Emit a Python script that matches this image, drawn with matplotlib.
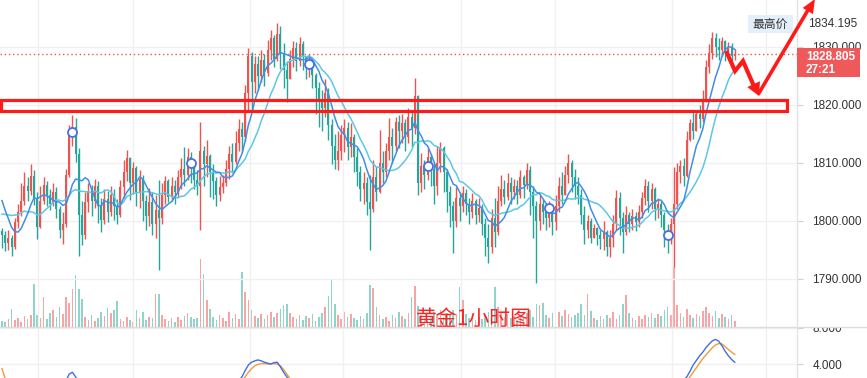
"""
Gold 1h candlestick chart with MA lines, volume and an oscillator pane
"""

import numpy as np
import pandas as pd
import matplotlib
matplotlib.use("Agg")
import matplotlib.pyplot as plt
from matplotlib.patches import Rectangle, Polygon
from matplotlib.lines import Line2D

# closes before the first visible bar, only used to warm up the moving averages
prior_closes = [1797.0, 1798.5, 1796.5, 1799.0, 1800.5, 1799.0, 1801.5,
                1808.0, 1807.0, 1806.0, 1805.0, 1802.0, 1799.0]
first_open = 1798.2

closes = [
    1797.5, 1796.2, 1797.0, 1795.5, 1799.8, 1801.5, 1803.5, 1806.0, 1805.2, 1807.8,
    1804.0, 1799.0, 1803.5, 1806.2, 1804.5, 1803.0, 1805.0, 1802.0, 1798.5, 1799.5,
    1808.0, 1814.8, 1816.2, 1811.5, 1801.0, 1797.5, 1803.2, 1805.2, 1803.4, 1806.0,
    1802.5, 1800.2, 1803.8, 1801.5, 1804.5, 1802.6, 1801.0, 1805.8, 1808.5, 1810.8,
    1806.5, 1809.2, 1805.0, 1807.2, 1803.5, 1800.8, 1803.2, 1799.5, 1801.8, 1800.5,
    1804.5, 1806.8, 1804.2, 1806.0, 1805.0, 1807.5, 1809.0, 1808.0, 1811.0, 1809.5,
    1807.0, 1806.0, 1812.0, 1809.8, 1811.2, 1808.5, 1806.8, 1804.5, 1805.8, 1806.5,
    1809.0, 1811.5, 1810.2, 1813.5, 1815.8, 1814.5, 1822.0, 1828.5, 1824.0, 1827.0,
    1825.0, 1827.8, 1825.5, 1829.5, 1831.5, 1828.0, 1832.2, 1829.0, 1826.0, 1824.5,
    1828.0, 1829.8, 1827.5, 1830.5, 1828.2, 1826.5, 1827.0, 1825.2, 1823.0, 1820.5,
    1819.5, 1822.0, 1816.5, 1813.0, 1810.5, 1812.0, 1814.8, 1816.0, 1812.8, 1814.5,
    1811.0, 1808.5, 1805.5, 1806.5, 1803.2, 1802.0, 1807.5, 1805.0, 1810.0, 1808.5,
    1812.0, 1814.5, 1813.0, 1817.0, 1815.5, 1816.8, 1814.5, 1818.0, 1816.0, 1821.5,
    1806.5, 1809.5, 1808.0, 1811.0, 1809.0, 1806.0, 1810.0, 1812.5, 1808.5, 1805.0,
    1802.5, 1800.0, 1804.0, 1802.5, 1804.8, 1803.0, 1801.5, 1803.5, 1801.0, 1802.2,
    1799.5, 1797.0, 1795.5, 1800.5, 1798.0, 1803.5, 1805.5, 1804.2, 1806.5, 1805.0,
    1806.0, 1804.5, 1807.5, 1806.2, 1808.8, 1805.0, 1802.5, 1800.0, 1803.0, 1801.5,
    1800.5, 1801.8, 1799.8, 1802.5, 1806.0, 1804.5, 1808.0, 1810.0, 1807.5, 1806.0,
    1804.5, 1801.0, 1798.5, 1800.0, 1797.0, 1798.8, 1797.5, 1796.8, 1798.0, 1795.5,
    1797.0, 1799.5, 1804.0, 1800.5, 1798.0, 1801.0, 1799.5, 1800.8, 1799.8, 1801.5,
    1804.0, 1806.0, 1803.5, 1805.5, 1802.0, 1803.0, 1801.0, 1798.5, 1797.0, 1799.5,
    1803.0, 1808.5, 1809.5, 1807.8, 1814.0, 1816.8, 1815.5, 1818.5, 1817.5, 1821.0,
    1826.5, 1829.0, 1831.5, 1830.0, 1829.5, 1831.0, 1829.2, 1830.0, 1828.5, 1828.805,
]
highs = [
    1798.8, 1798.2, 1798.5, 1797.6, 1800.5, 1803.0, 1806.5, 1808.5, 1807.5, 1809.8,
    1808.8, 1805.0, 1806.0, 1807.5, 1806.8, 1805.5, 1806.5, 1805.8, 1802.5, 1801.5,
    1809.0, 1816.5, 1818.3, 1817.8, 1812.5, 1803.5, 1805.0, 1806.5, 1806.2, 1807.2,
    1806.8, 1804.0, 1805.5, 1805.2, 1806.0, 1805.5, 1803.8, 1807.0, 1810.5, 1812.2,
    1811.0, 1810.2, 1809.5, 1808.8, 1808.0, 1804.5, 1805.6, 1805.0, 1804.4, 1807.0,
    1806.5, 1807.8, 1807.2, 1807.5, 1807.0, 1808.8, 1810.8, 1812.8, 1812.5, 1811.8,
    1810.0, 1808.8, 1817.0, 1813.0, 1814.0, 1811.5, 1809.8, 1807.5, 1807.8, 1808.0,
    1810.5, 1813.0, 1813.5, 1815.5, 1817.5, 1817.0, 1823.5, 1829.8, 1829.2, 1828.5,
    1828.5, 1829.5, 1828.8, 1831.2, 1833.0, 1832.0, 1834.2, 1833.6, 1830.7, 1827.5,
    1829.5, 1831.0, 1830.8, 1831.7, 1831.0, 1828.5, 1828.8, 1827.5, 1825.5, 1824.0,
    1822.5, 1824.5, 1823.0, 1817.5, 1815.0, 1815.5, 1816.5, 1817.5, 1817.0, 1816.8,
    1815.0, 1812.5, 1809.5, 1808.5, 1807.5, 1808.0, 1810.5, 1809.5, 1815.7, 1812.0,
    1813.5, 1817.8, 1816.0, 1818.0, 1818.2, 1818.5, 1817.5, 1819.5, 1819.0, 1824.6,
    1821.8, 1811.7, 1810.5, 1812.5, 1811.5, 1810.0, 1813.0, 1813.6, 1813.0, 1809.0,
    1806.0, 1803.5, 1805.9, 1805.0, 1806.0, 1805.5, 1804.0, 1804.8, 1803.8, 1804.0,
    1803.0, 1800.5, 1799.5, 1802.0, 1804.0, 1806.0, 1808.0, 1807.0, 1808.3, 1807.5,
    1807.2, 1807.0, 1808.8, 1808.0, 1810.0, 1809.5, 1806.0, 1803.5, 1804.5, 1803.8,
    1803.0, 1803.5, 1802.8, 1804.5, 1807.5, 1808.5, 1809.5, 1811.5, 1810.5, 1809.0,
    1807.5, 1805.5, 1802.5, 1801.0, 1800.5, 1799.5, 1799.0, 1798.5, 1800.0, 1798.5,
    1798.5, 1801.0, 1805.3, 1805.0, 1801.5, 1802.5, 1801.5, 1802.0, 1801.5, 1802.8,
    1805.0, 1807.2, 1806.8, 1806.5, 1805.8, 1804.0, 1803.5, 1801.5, 1799.5, 1800.5,
    1809.3, 1810.0, 1810.5, 1810.8, 1815.5, 1817.5, 1818.8, 1819.2, 1820.0, 1822.5,
    1827.8, 1830.5, 1832.6, 1832.4, 1831.5, 1831.8, 1831.2, 1830.8, 1830.6, 1829.6,
]
lows = [
    1795.4, 1794.8, 1795.0, 1794.0, 1795.2, 1798.8, 1800.9, 1802.8, 1803.5, 1804.5,
    1802.8, 1796.8, 1798.8, 1803.0, 1802.5, 1801.8, 1802.5, 1800.5, 1797.0, 1796.0,
    1799.0, 1807.5, 1813.0, 1810.2, 1794.0, 1795.8, 1796.8, 1801.5, 1800.8, 1802.3,
    1799.6, 1798.0, 1799.5, 1799.8, 1800.8, 1800.2, 1799.4, 1800.6, 1804.0, 1806.8,
    1803.6, 1804.6, 1802.5, 1802.2, 1800.0, 1798.5, 1799.2, 1797.6, 1797.0, 1791.5,
    1799.5, 1803.0, 1803.2, 1803.5, 1803.0, 1804.2, 1805.5, 1806.0, 1807.0, 1806.5,
    1805.5, 1804.5, 1798.5, 1806.0, 1807.5, 1804.2, 1803.8, 1802.5, 1803.5, 1804.8,
    1806.0, 1807.2, 1808.2, 1809.8, 1812.0, 1811.8, 1813.8, 1819.2, 1818.8, 1822.0,
    1822.5, 1824.0, 1823.2, 1825.0, 1827.8, 1826.5, 1827.5, 1826.2, 1823.0, 1820.5,
    1825.0, 1826.5, 1825.8, 1826.8, 1826.0, 1824.5, 1824.8, 1823.0, 1818.5, 1816.2,
    1815.5, 1818.0, 1814.0, 1809.8, 1809.0, 1808.8, 1810.5, 1811.8, 1810.5, 1811.0,
    1808.5, 1806.0, 1803.5, 1803.0, 1801.0, 1795.0, 1801.5, 1803.5, 1804.8, 1806.5,
    1807.5, 1810.5, 1810.0, 1812.0, 1812.5, 1813.5, 1812.0, 1813.5, 1812.8, 1815.0,
    1804.5, 1805.0, 1805.5, 1807.0, 1806.0, 1803.0, 1804.5, 1808.5, 1805.0, 1801.5,
    1799.0, 1794.5, 1799.0, 1800.0, 1801.5, 1801.0, 1799.5, 1800.5, 1799.5, 1799.8,
    1797.5, 1794.0, 1792.8, 1794.5, 1795.5, 1797.5, 1802.5, 1803.0, 1803.6, 1803.0,
    1803.8, 1803.0, 1804.0, 1804.0, 1805.5, 1801.0, 1797.0, 1789.3, 1798.5, 1799.5,
    1798.5, 1799.0, 1797.5, 1798.5, 1801.5, 1803.0, 1804.5, 1806.5, 1805.0, 1803.8,
    1803.0, 1799.5, 1796.0, 1797.0, 1796.2, 1797.0, 1795.8, 1795.2, 1795.0, 1794.0,
    1793.8, 1795.5, 1798.5, 1797.5, 1794.5, 1797.5, 1798.0, 1798.5, 1798.2, 1799.0,
    1800.5, 1802.8, 1801.5, 1802.0, 1800.2, 1800.5, 1799.0, 1795.5, 1794.5, 1796.0,
    1792.0, 1802.0, 1806.5, 1806.0, 1807.5, 1813.8, 1814.2, 1815.5, 1816.0, 1817.0,
    1820.5, 1825.5, 1828.0, 1828.3, 1827.8, 1828.5, 1827.5, 1827.8, 1827.2, 1827.8,
]
volumes = [
    6, 5, 8, 18, 7, 9, 5, 11, 8, 12,
    43, 12, 9, 30, 8, 14, 17, 10, 20, 13,
    30, 24, 38, 52, 38, 28, 10, 7, 12, 6,
    9, 15, 11, 19, 14, 17, 26, 8, 6, 10,
    7, 5, 17, 9, 15, 7, 10, 9, 33, 33,
    12, 8, 6, 9, 5, 10, 7, 11, 14, 10,
    8, 9, 68, 53, 27, 18, 10, 7, 12, 9,
    6, 15, 9, 13, 8, 55, 35, 27, 17, 11,
    9, 13, 8, 12, 15, 10, 14, 18, 22, 23,
    14, 10, 8, 12, 7, 11, 9, 13, 6, 10,
    14, 20, 31, 48, 23, 12, 8, 15, 10, 13,
    9, 7, 11, 8, 14, 42, 39, 20, 12, 8,
    10, 6, 12, 9, 15, 11, 8, 14, 30, 41,
    21, 12, 9, 7, 11, 15, 13, 17, 10, 14,
    12, 17, 13, 40, 27, 13, 9, 11, 7, 10,
    8, 12, 15, 18, 40, 20, 14, 10, 13, 9,
    11, 7, 12, 9, 14, 17, 10, 23, 22, 24,
    12, 9, 14, 8, 15, 11, 17, 13, 10, 12,
    14, 23, 12, 33, 16, 9, 7, 11, 8, 12,
    9, 15, 8, 12, 23, 32, 14, 9, 7, 11,
    8, 12, 10, 14, 9, 13, 11, 17, 20, 12,
    60, 22, 14, 10, 18, 12, 9, 13, 11, 16,
    20, 14, 11, 16, 9, 13, 10, 8, 12, 6,
]

# circle signals on the chart (bar index, price)
signal_idx = [22, 59, 96, 133, 171, 208]
signal_price = [1815.3, 1810.0, 1827.1, 1809.5, 1802.2, 1797.6]

# oscillator pane, only the parts that rise into view (start bar -> values)
osc_fast = {
    20: [2.2, 2.9, 3.1, 2.6, 2.0],
    74: [2.2, 2.6, 3.3, 3.9, 4.2, 4.35, 4.45, 4.35, 4.2, 4.1, 4.0, 4.15, 4.2,
         3.7, 3.1, 2.6, 2.1],
    213: [2.2, 2.6, 3.2, 3.9, 4.4, 4.9, 5.3, 5.8, 6.2, 6.55, 6.7, 6.5, 6.0,
          5.4, 4.9, 4.5, 4.2],
}
osc_slow = {
    0: [3.5, 2.4, 1.8],
    75: [2.2, 2.6, 3.1, 3.5, 3.8, 3.95, 4.05, 4.05, 4.0, 4.0, 4.05, 4.0, 3.8,
         3.4, 2.9, 2.4, 2.0],
    214: [2.2, 2.6, 3.1, 3.6, 4.1, 4.6, 5.0, 5.4, 5.8, 6.1, 6.25, 6.2, 5.9,
          5.6, 5.3, 5.05],
}

day_breaks = [11.25, 41, 77.5, 106.5, 143.5, 172.75, 209.5, 238.75]
last_price = 1828.805
high_price = 1834.195
zone = (1819.0, 1820.8)

RED = "#ef5350"
GREEN = "#26a69a"
GRID = "#f0f0f0"

W, H = 867, 378
SPLIT = 327
RIGHT = 797

plt.rcParams["font.family"] = ["Liberation Sans", "Noto Sans CJK SC", "DejaVu Sans"]

fig = plt.figure(figsize=(W / 100, H / 100), dpi=100)
ax = fig.add_axes([0, (H - SPLIT) / H, RIGHT / W, SPLIT / H])
axl = fig.add_axes([0, 0, RIGHT / W, (H - SPLIT) / H], sharex=ax)
axv = ax.twinx()
axv.set_zorder(ax.get_zorder() - 1)
ax.patch.set_visible(False)


def px(x, y):
    return x / W, 1 - y / H


idx = np.arange(len(closes))
c = np.array(closes)
o = np.array([first_open] + closes[:-1])
hi = np.maximum(np.array(highs), np.maximum(o, c))
lo = np.minimum(np.array(lows), np.minimum(o, c))
up = c >= o
cols = np.where(up, RED, GREEN)

# grid
for lvl in [1790, 1800, 1810, 1820, 1830]:
    ax.axhline(lvl, color=GRID, lw=1, zorder=0)
for d in day_breaks:
    ax.axvline(d, color=GRID, lw=1, zorder=0)
    axl.axvline(d, color=GRID, lw=1, zorder=0)
for lvl in [4, 8]:
    axl.axhline(lvl, color=GRID, lw=1, zorder=0)

# volume
vol_cols = np.where(up, "#f6a5a4", "#8fd3ca")
axv.bar(idx, volumes, width=0.5, color=vol_cols, lw=0)
axv.set_ylim(0, SPLIT)
axv.axis("off")

# candles
ax.vlines(idx, lo, hi, colors=cols, lw=1, zorder=2)
ax.bar(idx, np.maximum(np.abs(c - o), 0.15), bottom=np.minimum(o, c), width=0.62,
       color=cols, lw=0, zorder=2)

# moving averages
full = pd.Series(prior_closes + closes)
n0 = len(prior_closes)
ma_fast = full.rolling(7, min_periods=1).mean().to_numpy()[n0:]
ma_slow = full.rolling(14, min_periods=1).mean().to_numpy()[n0:]
ax.plot(idx, ma_slow, color="#5cc8e6", lw=1.1, zorder=3)
ax.plot(idx, ma_fast, color="#3d8fe8", lw=1.1, zorder=3)

ax.plot(signal_idx, signal_price, "o", ms=6.5, mfc="white", mec="#4a6fe3",
        mew=1.3, zorder=4)

# last price dotted line
ax.axhline(last_price, color=RED, lw=1, ls=(0, (1, 2)), zorder=1)

# zone box
ax.add_patch(Rectangle((-0.3, zone[0]), 245.6, zone[1] - zone[0], fill=False,
                       ec="#ff1a1a", lw=2.3, zorder=5))

ax.text(147.5, 1783.1, "黄金1小时图", color="#ff2222", fontsize=15,
        ha="center", va="center", family=["Noto Sans CJK SC"], zorder=6)

ax.set_xlim(-0.625, 248.44)
ax.set_ylim(1781.7, 1838.1)
axl.set_ylim(2.47, 8.06)

for a, ticks in [(ax, [1790, 1800, 1810, 1820, 1830]), (axl, [4, 8])]:
    a.yaxis.tick_right()
    a.set_yticks(ticks)
    a.set_yticklabels([f"{t:.3f}" for t in ticks])
    a.tick_params(axis="y", length=4, color="#d0d0d0", pad=7, labelsize=8.5,
                  labelcolor="#333333")
    a.tick_params(axis="x", bottom=False, labelbottom=False)
    for s in a.spines.values():
        s.set_visible(False)

# oscillator lines
for start, vals in osc_slow.items():
    axl.plot(np.arange(start, start + len(vals)), vals, color="#f39a35", lw=1)
for start, vals in osc_fast.items():
    axl.plot(np.arange(start, start + len(vals)), vals, color="#3f6fe4", lw=1)

# pane separator and right axis border (the top half of "8.000" sits under the pane above)
fig.add_artist(Rectangle(px(RIGHT + 1, SPLIT), (W - RIGHT) / W, 9 / H,
                         transform=fig.transFigure, fc="white", ec="none", zorder=8))
fig.add_artist(Line2D([0, 1], [1 - SPLIT / H] * 2, color="#dcdcdc", lw=1, zorder=9))
fig.add_artist(Line2D([RIGHT / W] * 2, [0, 1], color="#e3e3e3", lw=1, zorder=9))

# highest price tag
fig.add_artist(Rectangle(px(748, 33), 45 / W, 18 / H, transform=fig.transFigure,
                         fc="#e4effb", ec="none", zorder=9))
fig.text(*px(770.5, 24), "最高价", fontsize=8.5, color="#333333", ha="center",
         va="center", family=["Noto Sans CJK SC"], zorder=10)
fig.text(*px(808, 24), f"{high_price:.3f}", fontsize=8.5, color="#333333",
         ha="left", va="center", zorder=10)

# last price tag
fig.add_artist(Rectangle(px(797, 77), 63 / W, 29 / H, transform=fig.transFigure,
                         fc="#f0595a", ec="none", zorder=9))
fig.text(*px(806, 57), f"{last_price:.3f}", fontsize=8.5, color="white",
         weight="bold", ha="left", va="center", zorder=10)
fig.text(*px(806, 70), "27:21", fontsize=8.5, color="white", weight="bold",
         ha="left", va="center", zorder=10)


def arrow_head(tip, tail, length, half_w):
    tip = np.array(tip, float)
    d = tip - np.array(tail, float)
    d /= np.hypot(*d)
    n = np.array([-d[1], d[0]])
    base = tip - d * length
    pts = [tip, base + n * half_w, base - n * half_w]
    return Polygon([px(*p) for p in pts], closed=True, transform=fig.transFigure,
                   fc="#ff1a1a", ec="none", zorder=11)


zig = [(727, 53), (735, 71), (743, 61), (753, 84)]
fig.add_artist(Line2D(*zip(*[px(*p) for p in zig]), color="#ff1a1a", lw=3,
                      solid_joinstyle="miter", zorder=11))
fig.add_artist(arrow_head((759, 96), (743, 61), 13, 7))

fig.add_artist(Line2D(*zip(*[px(*p) for p in [(759, 93), (808, 10)]]),
                      color="#ff1a1a", lw=2.6, zorder=11))
fig.add_artist(arrow_head((815, -1), (759, 93), 14, 6))

fig.savefig("out.png", dpi=100)
